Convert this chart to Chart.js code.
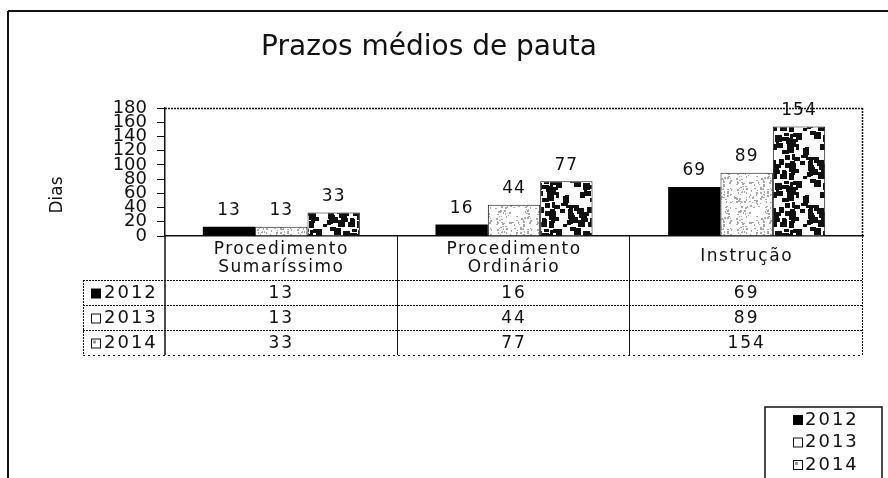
<!DOCTYPE html>
<html>
<head>
<meta charset="utf-8">
<script src="https://cdn.jsdelivr.net/npm/chart.js@4.4.1/dist/chart.umd.min.js"></script>
<style>
  html, body { margin: 0; background: #fff; }
  #wrap { width: 888px; height: 478px; }
</style>
</head>
<body>
<div id="wrap"><canvas id="prazosChart" width="888" height="478"></canvas></div>
<script>
/* Prazos médios de pauta - grouped bars + data table */

const CATEGORIES = [['Procedimento', 'Sumaríssimo'], ['Procedimento', 'Ordinário'], ['Instrução']];
const YEARS = ['2012', '2013', '2014'];
const DIAS_2012 = [13, 16, 69];
const DIAS_2013 = [13, 44, 89];
const DIAS_2014 = [33, 77, 154];
const Y_MIN = 0;
const Y_MAX = 180;
const Y_STEP = 20;
const TITLE = 'Prazos médios de pauta';
const Y_TITLE = 'Dias';

const INK = '#111';
const FONT = '"DejaVu Sans", Verdana, sans-serif';

// speckle textures for the scanned-looking fills (texture only, not data)
function speckle(size, count, color, dot, spread, seed) {
  const c = document.createElement('canvas');
  c.width = c.height = size;
  const g = c.getContext('2d');
  g.fillStyle = '#fff';
  g.fillRect(0, 0, size, size);
  g.fillStyle = color;
  let s = seed >>> 0;
  const next = () => {
    s ^= s << 13; s >>>= 0;
    s ^= s >>> 17;
    s ^= s << 5; s >>>= 0;
    return s >>> 8;
  };
  for (let i = 0; i < count; i++) {
    const x = next() % size;
    const y = next() % size;
    const w = dot + (next() % spread);
    const h = dot + (next() % spread);
    // wrap around so the tile repeats seamlessly
    for (const ox of [0, -size]) for (const oy of [0, -size]) g.fillRect(x + ox, y + oy, w, h);
  }
  return g.createPattern(c, 'repeat');
}

const PATTERN_2013 = speckle(40, 140, '#a8a8a8', 1, 2, 2463534242);
const PATTERN_2014 = speckle(48, 70, '#111', 3, 5, 88675123);

const COLORS = ['#000', PATTERN_2013, PATTERN_2014];

function line(ctx, x1, y1, x2, y2, dash, width) {
  ctx.save();
  ctx.beginPath();
  ctx.strokeStyle = INK;
  ctx.lineWidth = width || 1;
  ctx.setLineDash(dash || []);
  ctx.moveTo(x1, y1);
  ctx.lineTo(x2, y2);
  ctx.stroke();
  ctx.restore();
}

function text(ctx, str, x, y, size, align, spacing) {
  ctx.save();
  ctx.font = `${size}px ${FONT}`;
  ctx.fillStyle = INK;
  ctx.textAlign = align || 'center';
  ctx.textBaseline = 'middle';
  ctx.letterSpacing = (spacing || 0) + 'px';
  ctx.fillText(str, x, y);
  ctx.restore();
}

function legendKey(ctx, i, x, y) {
  ctx.save();
  ctx.lineWidth = 1;
  ctx.strokeStyle = INK;
  if (i === 0) {
    ctx.fillStyle = '#000';
    ctx.fillRect(x, y - 5, 10, 10);
  } else {
    ctx.fillStyle = '#fff';
    ctx.fillRect(x, y - 5, 10, 10);
    if (i === 2) { ctx.fillStyle = '#999'; ctx.fillRect(x + 2, y - 3, 3, 3); }
    ctx.strokeRect(x + 0.5, y - 4.5, 9, 9);
  }
  ctx.restore();
}

const decor = {
  id: 'decor',
  afterDatasetsDraw(chart) {
    const ctx = chart.ctx;
    chart.data.datasets.forEach((ds, di) => {
      chart.getDatasetMeta(di).data.forEach((bar, i) => {
        text(ctx, String(ds.data[i]), bar.x, bar.y - 16, 17, 'center', 1);
      });
    });
  },
  afterDraw(chart) {
    const ctx = chart.ctx;
    const { left, right, top, bottom } = chart.chartArea;
    const x = chart.scales.x;

    // outer frame
    line(ctx, 8, 11, 888, 11, [], 2);
    line(ctx, 8, 11, 8, 478, [], 2);

    text(ctx, TITLE, 429, 48, 28, 'center', 0);

    ctx.save();
    ctx.translate(58, 195);
    ctx.rotate(-Math.PI / 2);
    text(ctx, Y_TITLE, 0, 0, 17, 'center', 0);
    ctx.restore();

    // plot area box
    line(ctx, left, top + 0.5, right, top + 0.5, [2, 1], 1.5);
    line(ctx, right - 0.5, top, right - 0.5, bottom, [2, 1], 1.5);

    // data table
    const catW = x.width / CATEGORIES.length;
    const rowTop = 280, rowH = 25, tableBottom = rowTop + rowH * YEARS.length;
    const keyLeft = 83;
    line(ctx, left, bottom, left, tableBottom, [], 1.5);
    for (let i = 1; i <= CATEGORIES.length; i++) {
      const bx = Math.round(left + catW * i) - 0.5;
      line(ctx, bx, bottom, bx, tableBottom, i === CATEGORIES.length ? [2, 1] : [], 1);
    }
    line(ctx, keyLeft + 0.5, rowTop, keyLeft + 0.5, tableBottom, [2, 1], 1);
    for (let r = 0; r <= YEARS.length; r++) {
      const y = rowTop + r * rowH + 0.5;
      line(ctx, keyLeft, y, right, y, r === YEARS.length ? [2, 3] : [2, 1], 1);
    }

    CATEGORIES.forEach((cat, i) => {
      const cx = x.getPixelForValue(i);
      if (cat.length === 2) {
        text(ctx, cat[0], cx, 250, 17, 'center', 1.5);
        text(ctx, cat[1], cx, 268, 17, 'center', 1.5);
      } else {
        text(ctx, cat[0], cx, 257, 17, 'center', 1.5);
      }
    });

    const series = [DIAS_2012, DIAS_2013, DIAS_2014];
    YEARS.forEach((yr, r) => {
      const cy = rowTop + r * rowH + rowH / 2 + 1;
      legendKey(ctx, r, 91, cy);
      text(ctx, yr, 104, cy, 18, 'left', 2);
      series[r].forEach((v, i) => {
        text(ctx, String(v), x.getPixelForValue(i), cy, 17, 'center', 2);
      });
    });

    // legend box
    ctx.save();
    ctx.strokeStyle = INK;
    ctx.lineWidth = 1.5;
    ctx.strokeRect(765, 407, 117, 80);
    ctx.restore();
    YEARS.forEach((yr, r) => {
      const cy = 420 + r * 22.5;
      legendKey(ctx, r, 793, cy);
      text(ctx, yr, 805, cy, 18, 'left', 2);
    });
  }
};

const datasets = [DIAS_2012, DIAS_2013, DIAS_2014].map((data, i) => ({
  label: YEARS[i],
  data,
  backgroundColor: COLORS[i],
  borderColor: INK,
  borderWidth: i === 0 ? 0 : 1,
  barPercentage: 1,
  categoryPercentage: 0.675,
}));

new Chart(document.getElementById('prazosChart'), {
  type: 'bar',
  data: { labels: CATEGORIES.map(c => c.join(' ')), datasets },
  options: {
    responsive: false,
    animation: false,
    layout: { padding: { left: 0, right: 25, top: 108, bottom: 0 } },
    plugins: { legend: { display: false }, title: { display: false }, tooltip: { enabled: false } },
    scales: {
      x: {
        afterFit: s => { s.height = 242; },
        ticks: { display: false },
        grid: { display: false },
        border: { display: true, color: INK, width: 1.5 },
      },
      y: {
        min: Y_MIN,
        max: Y_MAX,
        afterFit: s => { s.width = 165; },
        ticks: {
          stepSize: Y_STEP,
          autoSkip: false,
          padding: 10,
          color: INK,
          font: { family: FONT, size: 18, lineHeight: 1 },
        },
        grid: { drawOnChartArea: false, tickLength: 8, color: INK, lineWidth: 1 },
        border: { color: INK, width: 1.5 },
      },
    },
  },
  plugins: [decor],
});
</script>
</body>
</html>
